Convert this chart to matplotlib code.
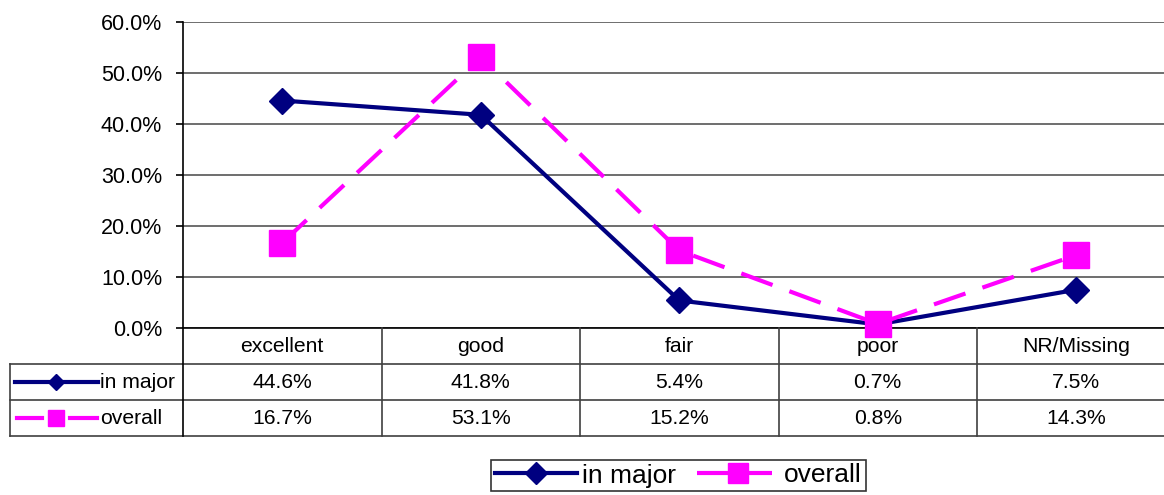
import matplotlib
matplotlib.use("Agg")
import matplotlib.pyplot as plt
from matplotlib.lines import Line2D

plt.rcParams['font.family'] = ['Liberation Sans', 'DejaVu Sans']

# data
categories = ['excellent', 'good', 'fair', 'poor', 'NR/Missing']
in_major = [44.6, 41.8, 5.4, 0.7, 7.5]
overall = [16.7, 53.1, 15.2, 0.8, 14.3]
series_names = ['in major', 'overall']

navy = '#000080'
magenta = '#FF00FF'
W, H = 1164, 495

fig = plt.figure(figsize=(W / 100, H / 100), dpi=100)

# plot area in pixels: left 183, top 22, bottom 328, column width 198.5
colw = 198.5
left, top, bottom = 183, 22, 328
ax = fig.add_axes([left / W, (H - bottom) / H, 5 * colw / W, (bottom - top) / H])
x = range(len(categories))
ax.plot(x, [v / 100 for v in in_major], color=navy, lw=3, marker='D', ms=13.5,
        mec=navy, mfc=navy, clip_on=False, zorder=3)
ax.plot(x, [v / 100 for v in overall], color=magenta, lw=3, ls=(0, (8, 4.3)),
        marker='s', ms=19, mec=magenta, mfc=magenta, clip_on=False, zorder=4)
ax.set_xlim(-0.5, len(categories) - 0.5)
ax.set_ylim(0, 0.6)
ax.set_yticks([i / 10 for i in range(7)])
ax.set_yticklabels(['%.1f%%' % (i * 10) for i in range(7)], fontsize=15.5)
ax.set_xticks([])
ax.grid(axis='y', color='#555555', lw=1.2)
ax.set_axisbelow(True)
for s in ['top', 'right']:
    ax.spines[s].set_visible(False)
ax.spines['left'].set_linewidth(1.2)
ax.spines['bottom'].set_linewidth(1.2)
ax.tick_params(axis='y', length=5, width=1.2, pad=10)

# data table drawn in pixel space
tb = fig.add_axes([0, 0, 1, 1], facecolor='none')
tb.set_xlim(0, W)
tb.set_ylim(H, 0)
tb.axis('off')
rows_y = [328, 364, 400, 436]
lc = '#404040'
for yy in rows_y[1:]:
    tb.plot([10, W], [yy, yy], color=lc, lw=1.2)
tb.plot([10, 10], [364, 436], color=lc, lw=1.2)
tb.plot([left, left], [328, 436], color='black', lw=1.2)
for i in range(1, len(categories)):
    xx = left + i * colw
    tb.plot([xx, xx], [328, 436], color=lc, lw=1.2)
fs = 15.2
for i, c in enumerate(categories):
    cx = left + (i + 0.5) * colw
    tb.text(cx, 346, c, ha='center', va='center', fontsize=fs)
    tb.text(cx, 382, '%.1f%%' % in_major[i], ha='center', va='center', fontsize=fs)
    tb.text(cx, 418, '%.1f%%' % overall[i], ha='center', va='center', fontsize=fs)

# legend keys inside the table row headers
tb.plot([15, 98], [382, 382], color=navy, lw=3)
tb.plot([56], [382], marker='D', ms=8, color=navy)
tb.plot([17, 42], [418, 418], color=magenta, lw=3)
tb.plot([70, 97], [418, 418], color=magenta, lw=3)
tb.plot([56], [418], marker='s', ms=11, color=magenta)
tb.text(100, 382, series_names[0], ha='left', va='center', fontsize=fs)
tb.text(100, 418, series_names[1], ha='left', va='center', fontsize=fs)

# bottom legend
handles = [Line2D([], [], color=navy, lw=3, marker='D', ms=11),
           Line2D([], [], color=magenta, lw=3, ls=(0, (8, 2)), marker='s', ms=15)]
leg = fig.legend(handles, series_names, loc='center', bbox_to_anchor=(678.5 / W, 1 - 475.5 / H),
                 ncol=2, fontsize=19, frameon=True, fancybox=False, handlelength=3.1,
                 handletextpad=0.2, columnspacing=0.8, borderpad=0.15, edgecolor='black')
leg.get_frame().set_linewidth(1.2)

fig.savefig('out.png', dpi=100)
